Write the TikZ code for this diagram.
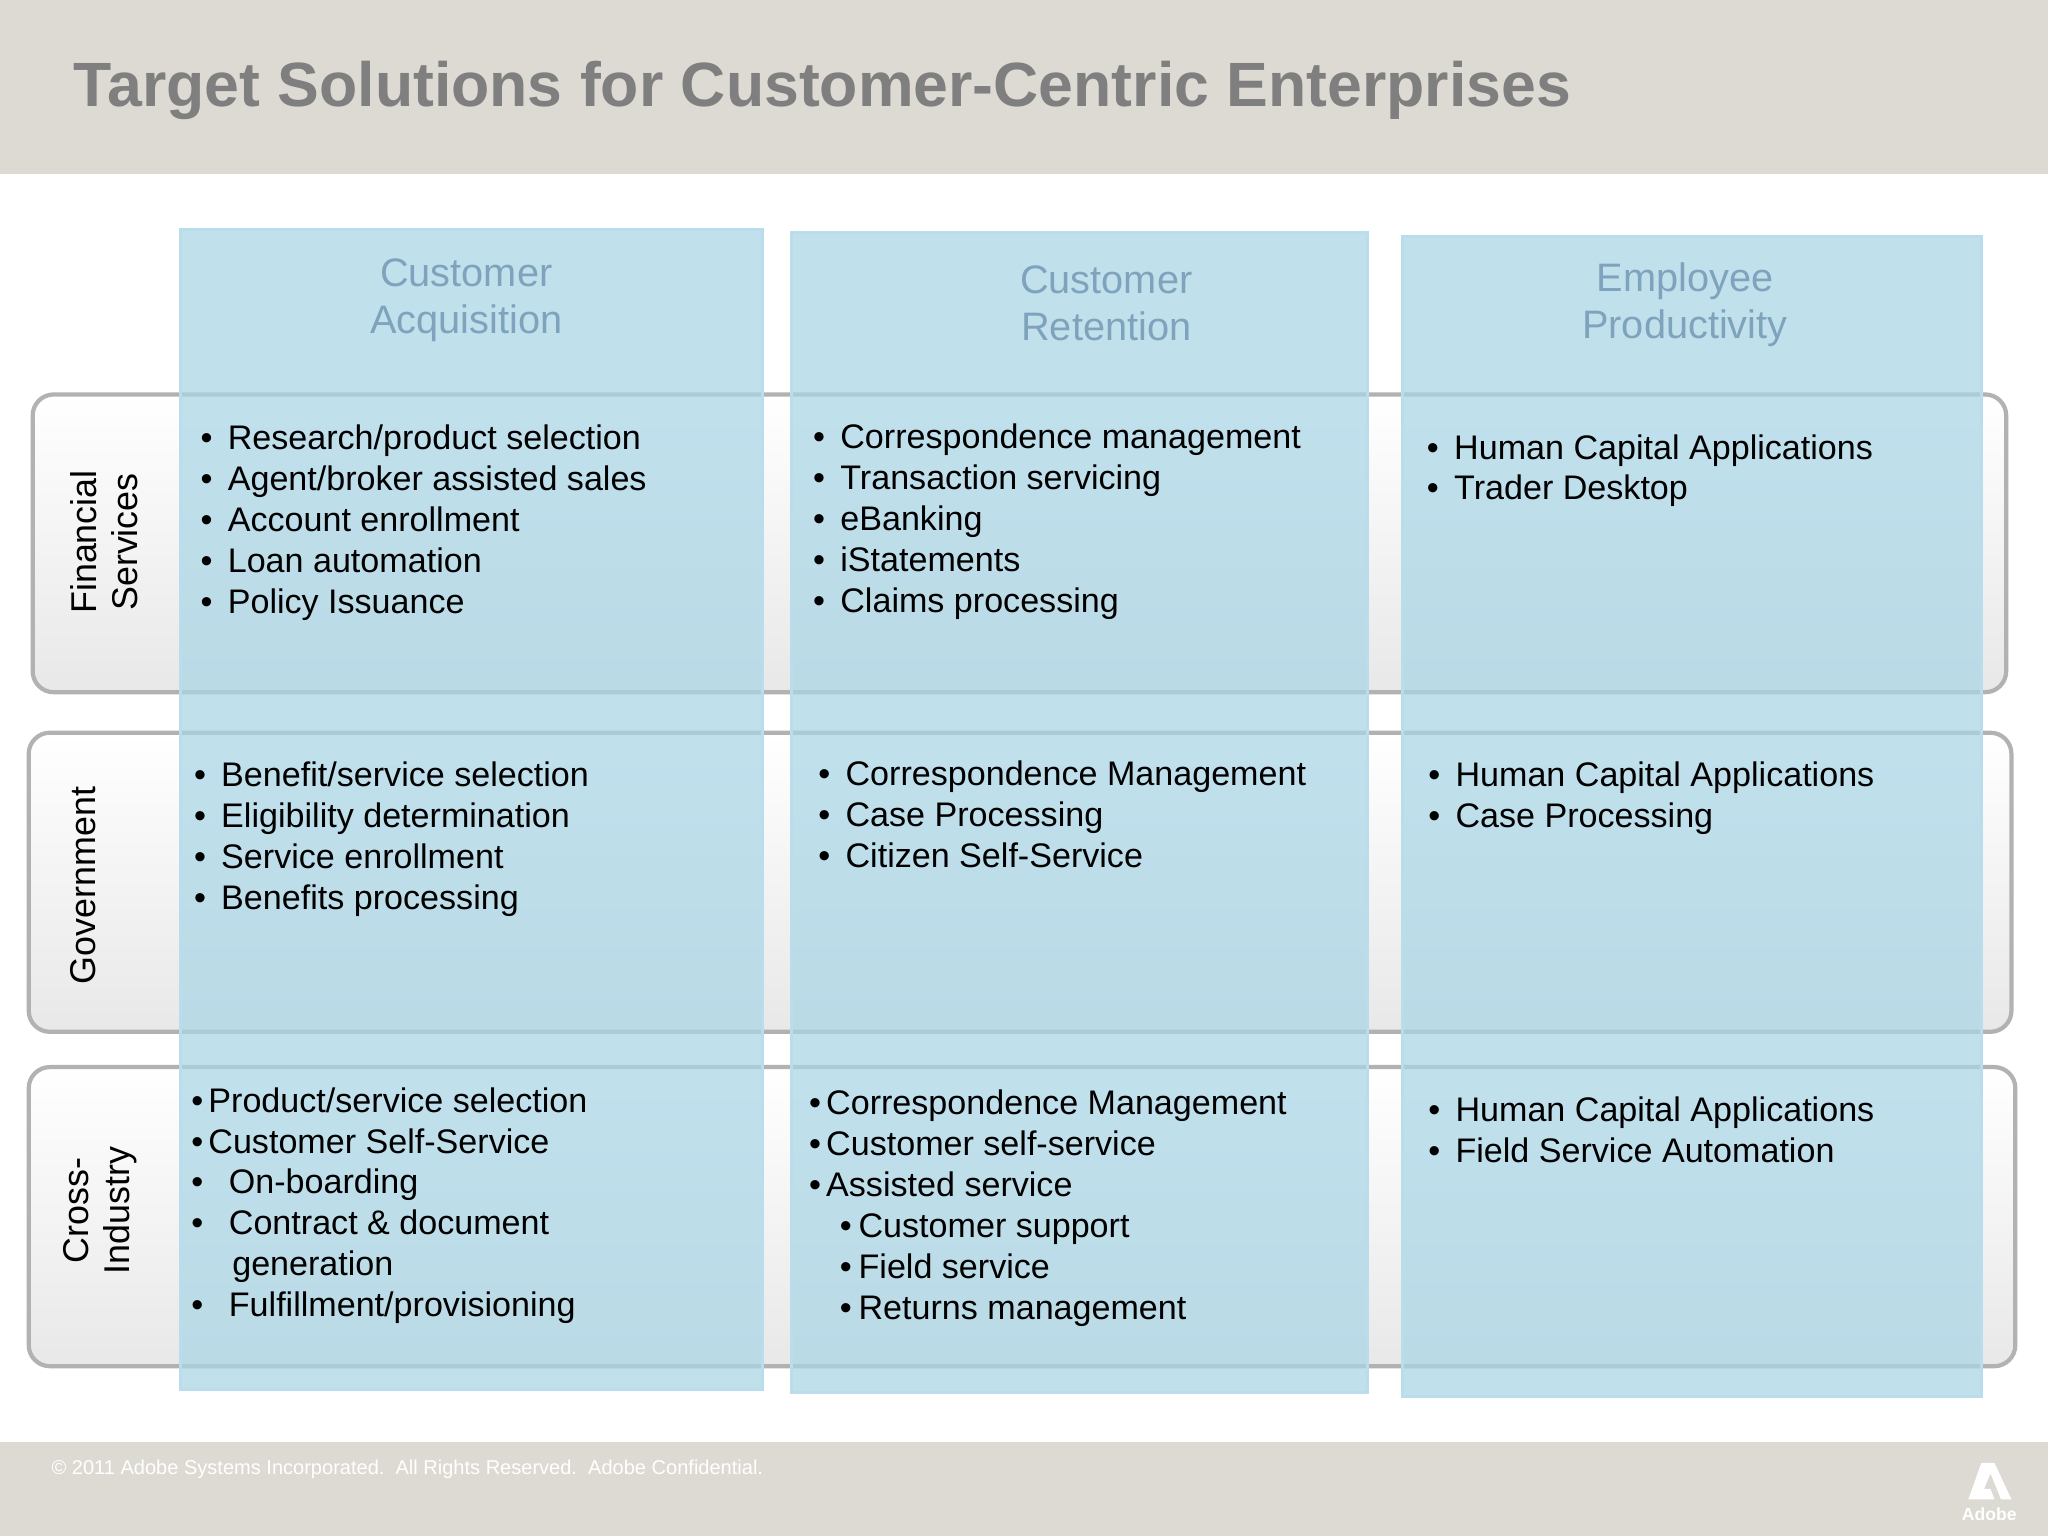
\documentclass[tikz,border=0pt]{standalone}
\usepackage{fontspec}
\setmainfont{Liberation Sans}
\begin{document}
\begin{tikzpicture}[x=0.013061cm,y=-0.013061cm,
 band/.style={fill=bandc,draw=none},
 rowbox/.style={rounded corners=6pt,draw=gray!60,line width=1.2pt,top color=white,bottom color=gray!18},
 colbox/.style={fill=colc,fill opacity=0.72,draw=colc!80!white,line width=0.8pt},
 head/.style={font=\fontsize{11.3}{13.4}\selectfont,text=headc,align=center,inner sep=0},
 lst/.style={font=\fontsize{9.7}{11.65}\selectfont,align=left,anchor=north west,inner sep=0},
 rlab/.style={font=\fontsize{10.2}{11.65}\selectfont,align=center,rotate=90,inner sep=0}]
\definecolor{bandc}{HTML}{DDDAD3}
\definecolor{colc}{HTML}{A9D5E6}
\definecolor{headc}{HTML}{7FA3BC}
\definecolor{titlec}{HTML}{7F7F7F}
\newcommand{\bl}{\textbullet\hspace{0.45em}}
\useasboundingbox (0,0) rectangle (1568,1176);
\fill[white] (0,0) rectangle (1568,1176);
\path[band] (0,0) rectangle (1568,133);
\path[band] (0,1104) rectangle (1568,1176);
\node[anchor=west,inner sep=0,font=\bfseries\fontsize{17.8}{20}\selectfont,text=titlec] (title) at (56,69) {Target Solutions for Customer-Centric Enterprises};
% rows
\path[rowbox] (25,302) rectangle (1536,530);
\path[rowbox] (22,561) rectangle (1540,790);
\path[rowbox] (22,817) rectangle (1543,1046);
% columns
\path[colbox] (138,176) rectangle (584,1064);
\path[colbox] (606,178) rectangle (1047,1066);
\path[colbox] (1074,181) rectangle (1517,1069);
% headers
\node[head] (h1) at (357,230) {Customer\\Acquisition};
\node[head] (h2) at (847,232) {Customer\\Retention};
\node[head] (h3) at (1290,233) {Employee\\Productivity};
% row labels
\node[rlab] (r1) at (80,415) {Financial\\Services};
\node[rlab] (r2) at (64,678) {Government};
\node[rlab] (r3) at (77,927) {Cross-\\Industry};
% cells
\node[lst] (c11) at (153,325) {\bl Research/product selection\\\bl Agent/broker assisted sales\\\bl Account enrollment\\\bl Loan automation\\\bl Policy Issuance};
\node[lst] (c12) at (622,324) {\bl Correspondence management\\\bl Transaction servicing\\\bl eBanking\\\bl iStatements\\\bl Claims processing};
\node[lst] (c13) at (1092,332) {\bl Human Capital Applications\\\bl Trader Desktop};
\node[lst] (c21) at (148,583) {\bl Benefit/service selection\\\bl Eligibility determination\\\bl Service enrollment\\\bl Benefits processing};
\node[lst] (c22) at (626,582) {\bl Correspondence Management\\\bl Case Processing\\\bl Citizen Self-Service};
\node[lst] (c23) at (1093,583) {\bl Human Capital Applications\\\bl Case Processing};
\node[lst] (c31) at (146,832) {\textbullet\hspace{0.15em}Product/service selection\\\textbullet\hspace{0.15em}Customer Self-Service\\\textbullet\hspace{0.75em}On-boarding\\\textbullet\hspace{0.75em}Contract \& document\\\hspace{1.2em}generation\\\textbullet\hspace{0.75em}Fulfillment/provisioning};
\node[lst] (c32) at (619,834) {\textbullet\hspace{0.15em}Correspondence Management\\\textbullet\hspace{0.15em}Customer self-service\\\textbullet\hspace{0.15em}Assisted service\\\hspace{0.9em}\textbullet\hspace{0.2em}Customer support\\\hspace{0.9em}\textbullet\hspace{0.2em}Field service\\\hspace{0.9em}\textbullet\hspace{0.2em}Returns management};
\node[lst] (c33) at (1093,839) {\bl Human Capital Applications\\\bl Field Service Automation};
% footer
\node[anchor=west,inner sep=0,font=\fontsize{5.7}{7}\selectfont,text=white] (foot) at (39,1125) {\textcopyright{} 2011 Adobe Systems Incorporated.\ \ All Rights Reserved.\ \ Adobe Confidential.};
\fill[white] (1507,1148) -- (1517,1120) -- (1527,1120) -- (1540,1148) -- (1532,1148) -- (1524,1128) -- (1519,1140) -- (1524,1140) -- (1527,1148) -- cycle;
\node[inner sep=0,font=\bfseries\fontsize{5}{6}\selectfont,text=white] (logo) at (1523,1159) {Adobe};
\end{tikzpicture}
\end{document}
